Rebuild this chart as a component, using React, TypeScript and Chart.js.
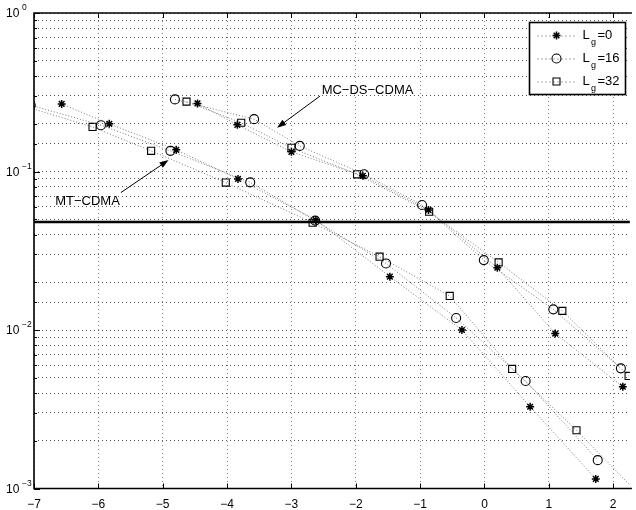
import React, { useEffect, useRef } from "react";
import { Chart, registerables } from "chart.js";

Chart.register(...registerables);

// ---- axis ranges & ticks ----
const X_MIN = -7;
const X_MAX = 2.26;
const Y_MIN = 1e-3;
const Y_MAX = 1;
const xTickValues = [-7, -6, -5, -4, -3, -2, -1, 0, 1, 2];
const yMajorValues = [1, 0.1, 0.01, 0.001];
const yMajorExponents = ["0", "\u22121", "\u22122", "\u22123"];

// ---- horizontal reference level ----
const thresholdLevel = 0.048;

// ---- MT-CDMA series ----
const mtX_Lg0 = [-6.57, -5.83, -4.79, -3.83, -2.62, -1.47, -0.35, 0.71, 1.73];
const mtY_Lg0 = [0.267, 0.2, 0.137, 0.0897, 0.0494, 0.0217, 0.01, 0.00328, 0.00115];
const mtX_Lg16 = [-7.05, -5.96, -4.88, -3.64, -2.63, -1.53, -0.44, 0.64, 1.76];
const mtY_Lg16 = [0.262, 0.196, 0.135, 0.0854, 0.049, 0.0263, 0.0119, 0.00477, 0.00151];
const mtX_Lg32 = [-7.15, -6.09, -5.18, -4.02, -2.67, -1.63, -0.54, 0.43, 1.43, 2.4];
const mtY_Lg32 = [0.258, 0.191, 0.135, 0.0851, 0.0475, 0.029, 0.0164, 0.00568, 0.00233, 0.00092];

// ---- MC-DS-CDMA series ----
const mcX_Lg0 = [-4.46, -3.84, -3.0, -1.89, -0.87, 0.2, 1.1, 2.15];
const mcY_Lg0 = [0.269, 0.197, 0.133, 0.094, 0.0572, 0.0247, 0.0095, 0.00439];
const mcX_Lg16 = [-4.81, -3.58, -2.87, -1.87, -0.97, -0.01, 1.07, 2.12];
const mcY_Lg16 = [0.285, 0.214, 0.145, 0.096, 0.0615, 0.0276, 0.0135, 0.00573];
const mcX_Lg32 = [-4.63, -3.78, -3.0, -1.98, -0.86, 0.22, 1.21, 2.24];
const mcY_Lg32 = [0.276, 0.203, 0.141, 0.096, 0.0557, 0.0267, 0.0132, 0.00513];

// ---- legend ----
const legendValues = ["=0", "=16", "=32"];
const legendStyles = ["star", "circle", "rect"];

// ---- annotations (data coordinates) ----
const mtLabel = { text: "MT\u2212CDMA", x: -6.67, y: 0.0614 };
const mtArrow = { x1: -5.65, y1: 0.0736, x2: -4.91, y2: 0.118 };
const mcLabel = { text: "MC\u2212DS\u2212CDMA", x: -2.53, y: 0.308 };
const mcArrow = { x1: -2.554, y1: 0.2995, x2: -3.223, y2: 0.189 };

const FONT = '"Liberation Sans", Arial, Helvetica, sans-serif';

const pts = (xs: number[], ys: number[]) => xs.map((x, i) => ({ x, y: ys[i] }));

function drawMarker(ctx: CanvasRenderingContext2D, style: string, x: number, y: number) {
  ctx.save();
  ctx.setLineDash([]);
  ctx.strokeStyle = "#000";
  ctx.lineWidth = style === "star" ? 1.5 : 1.1;
  ctx.beginPath();
  if (style === "star") {
    const r = 4;
    const d = r * Math.SQRT1_2;
    ctx.moveTo(x - r, y); ctx.lineTo(x + r, y);
    ctx.moveTo(x, y - r); ctx.lineTo(x, y + r);
    ctx.moveTo(x - d, y - d); ctx.lineTo(x + d, y + d);
    ctx.moveTo(x - d, y + d); ctx.lineTo(x + d, y - d);
  } else if (style === "circle") {
    ctx.arc(x, y, 4.5, 0, Math.PI * 2);
  } else {
    ctx.rect(x - 3.5, y - 3.5, 7, 7);
  }
  ctx.stroke();
  ctx.restore();
}

function drawArrow(ctx: CanvasRenderingContext2D, x1: number, y1: number, x2: number, y2: number) {
  const ang = Math.atan2(y2 - y1, x2 - x1);
  const hl = 9, hw = 3.2;
  ctx.save();
  ctx.setLineDash([]);
  ctx.strokeStyle = "#000";
  ctx.fillStyle = "#000";
  ctx.lineWidth = 1;
  ctx.beginPath();
  ctx.moveTo(x1, y1);
  ctx.lineTo(x2 - Math.cos(ang) * hl * 0.8, y2 - Math.sin(ang) * hl * 0.8);
  ctx.stroke();
  ctx.beginPath();
  ctx.moveTo(x2, y2);
  const bx = x2 - Math.cos(ang) * hl;
  const by = y2 - Math.sin(ang) * hl;
  ctx.lineTo(bx + Math.sin(ang) * hw, by - Math.cos(ang) * hw);
  ctx.lineTo(bx - Math.sin(ang) * hw, by + Math.cos(ang) * hw);
  ctx.closePath();
  ctx.fill();
  ctx.restore();
}

const overlayPlugin = {
  id: "overlay",
  afterDraw(chart: any) {
    const { ctx, chartArea: a, scales } = chart;
    const xs = scales.x;
    const ys = scales.y;
    ctx.save();
    ctx.setLineDash([]);
    ctx.strokeStyle = "#000";

    // tick marks
    ctx.lineWidth = 1;
    ctx.beginPath();
    for (const t of xTickValues) {
      const px = Math.round(xs.getPixelForValue(t)) + 0.5;
      ctx.moveTo(px, a.bottom); ctx.lineTo(px, a.bottom - 5);
      ctx.moveTo(px, a.top); ctx.lineTo(px, a.top + 5);
    }
    for (const tk of ys.ticks) {
      const v = tk.value;
      const lg = Math.log10(v);
      const major = Math.abs(lg - Math.round(lg)) < 1e-6;
      const py = Math.round(ys.getPixelForValue(v)) + 0.5;
      ctx.moveTo(a.left, py); ctx.lineTo(a.left + (major ? 6 : 3), py);
    }
    ctx.stroke();

    // axes box (left, top, bottom)
    ctx.lineWidth = 1.6;
    ctx.beginPath();
    ctx.moveTo(a.right + 2, a.top);
    ctx.lineTo(a.left, a.top);
    ctx.lineTo(a.left, a.bottom);
    ctx.lineTo(a.right + 2, a.bottom);
    ctx.stroke();

    // x tick labels
    ctx.fillStyle = "#000";
    ctx.font = `12px ${FONT}`;
    ctx.textAlign = "center";
    ctx.textBaseline = "alphabetic";
    for (const t of xTickValues) {
      const px = xs.getPixelForValue(t);
      const label = t < 0 ? `\u2212${Math.abs(t)}` : `${t}`;
      ctx.fillText(label, px, 508);
    }

    // y tick labels 10^k
    ctx.textAlign = "left";
    ctx.textBaseline = "middle";
    yMajorValues.forEach((v, i) => {
      const py = ys.getPixelForValue(v);
      ctx.font = `12px ${FONT}`;
      ctx.fillText("10", 6, py + 1);
      ctx.font = `8.5px ${FONT}`;
      ctx.fillText(yMajorExponents[i], 22, py - 5);
    });

    // annotations
    ctx.font = `13px ${FONT}`;
    ctx.textBaseline = "alphabetic";
    ctx.fillText(mtLabel.text, xs.getPixelForValue(mtLabel.x), ys.getPixelForValue(mtLabel.y));
    ctx.fillText(mcLabel.text, xs.getPixelForValue(mcLabel.x), ys.getPixelForValue(mcLabel.y));
    drawArrow(ctx, xs.getPixelForValue(mtArrow.x1), ys.getPixelForValue(mtArrow.y1), xs.getPixelForValue(mtArrow.x2), ys.getPixelForValue(mtArrow.y2));
    drawArrow(ctx, xs.getPixelForValue(mcArrow.x1), ys.getPixelForValue(mcArrow.y1), xs.getPixelForValue(mcArrow.x2), ys.getPixelForValue(mcArrow.y2));

    // legend
    const bl = 529.5, bt = 22.5, bw = 96, bh = 72;
    ctx.fillStyle = "#fff";
    ctx.fillRect(bl, bt, bw, bh);
    ctx.strokeStyle = "#000";
    ctx.lineWidth = 1.6;
    ctx.strokeRect(bl, bt, bw, bh);
    legendValues.forEach((val, i) => {
      const ry = bt + 13 + i * 23;
      ctx.save();
      ctx.strokeStyle = "#555";
      ctx.lineWidth = 1;
      ctx.setLineDash([1, 3]);
      ctx.beginPath();
      ctx.moveTo(bl + 8, ry + 0.5);
      ctx.lineTo(bl + 46, ry + 0.5);
      ctx.stroke();
      ctx.restore();
      drawMarker(ctx, legendStyles[i], bl + 27, ry);
      ctx.fillStyle = "#000";
      ctx.textAlign = "left";
      ctx.textBaseline = "alphabetic";
      ctx.font = `13px ${FONT}`;
      ctx.fillText("L", bl + 53, ry + 3);
      ctx.font = `9px ${FONT}`;
      ctx.fillText("g", bl + 61.5, ry + 9);
      ctx.font = `13px ${FONT}`;
      ctx.fillText(val, bl + 68, ry + 3);
    });
    ctx.restore();
  },
};

function series(data: { x: number; y: number }[], style: string) {
  return {
    data,
    showLine: true,
    borderColor: "#7a7a7a",
    borderWidth: 1,
    borderDash: [1, 2],
    pointStyle: style,
    pointRadius: style === "circle" ? 4.5 : style === "rect" ? 5 : 4,
    pointBorderColor: "#000",
    pointBackgroundColor: "rgba(0,0,0,0)",
    pointBorderWidth: style === "star" ? 1.5 : 1.1,
    pointHoverRadius: 4,
  };
}

export default function App() {
  const ref = useRef<HTMLCanvasElement | null>(null);

  useEffect(() => {
    if (!ref.current) return;
    const chart = new Chart(ref.current, {
      type: "scatter",
      data: {
        datasets: [
          {
            data: [
              { x: X_MIN, y: thresholdLevel },
              { x: X_MAX, y: thresholdLevel },
            ],
            showLine: true,
            borderColor: "#000",
            borderWidth: 2.5,
            pointRadius: 0,
          },
          series(pts(mtX_Lg0, mtY_Lg0), "star"),
          series(pts(mtX_Lg16, mtY_Lg16), "circle"),
          series(pts(mtX_Lg32, mtY_Lg32), "rect"),
          series(pts(mcX_Lg0, mcY_Lg0), "star"),
          series(pts(mcX_Lg16, mcY_Lg16), "circle"),
          series(pts(mcX_Lg32, mcY_Lg32), "rect"),
        ] as any,
      },
      options: {
        animation: false,
        responsive: false,
        devicePixelRatio: 1,
        layout: { padding: { left: 34, top: 13, right: 0, bottom: 21.5 } },
        plugins: { legend: { display: false }, tooltip: { enabled: false } },
        events: [],
        scales: {
          x: {
            type: "linear",
            min: X_MIN,
            max: X_MAX,
            ticks: { display: false, stepSize: 1, includeBounds: false, autoSkip: false },
            grid: { display: true, drawTicks: false, color: "#8a8a8a", lineWidth: 1 },
            border: { display: false, dash: [1, 3] },
          },
          y: {
            type: "logarithmic",
            min: Y_MIN,
            max: Y_MAX,
            ticks: { display: false, autoSkip: false },
            grid: { display: true, drawTicks: false, color: "#555", lineWidth: 1 },
            border: { display: false, dash: [1, 3] },
          },
        },
      } as any,
      plugins: [overlayPlugin],
    });
    return () => chart.destroy();
  }, []);

  return (
    <div style={{ position: "fixed", left: 0, top: 0, width: 636, height: 510, background: "#fff", overflow: "hidden" }}>
      <canvas ref={ref} width={636} height={510} style={{ display: "block" }} />
    </div>
  );
}
